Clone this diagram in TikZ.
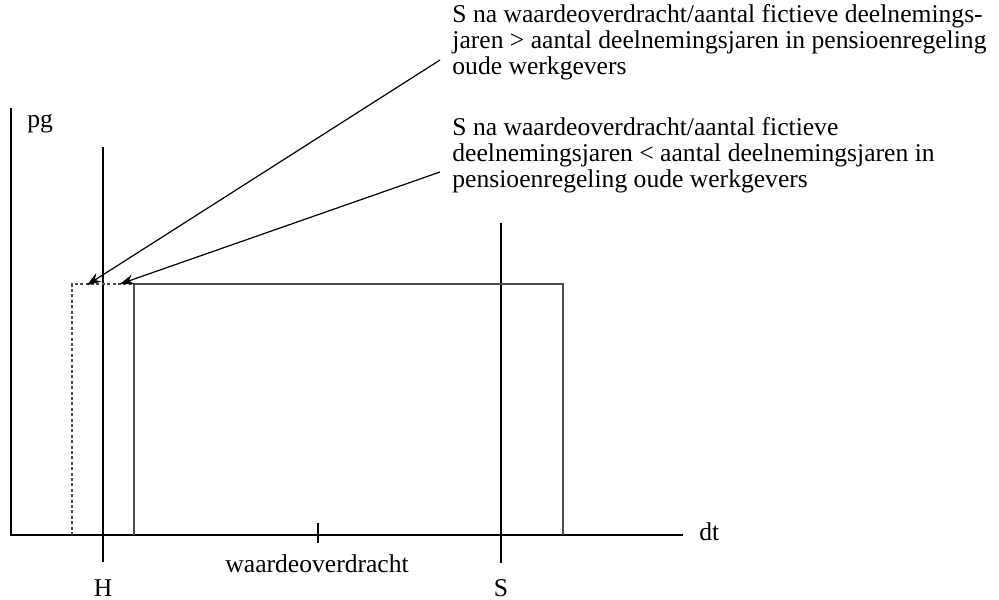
\documentclass[tikz,border=0pt]{standalone}
\usepackage{fontspec}
\setmainfont{Liberation Serif}
\usetikzlibrary{arrows.meta}
\begin{document}
\begin{tikzpicture}[x=0.5pt,y=-0.5pt,
  axis/.style={line width=0.7pt},
  marker/.style={line width=1.4pt},
  bar/.style={line width=0.6pt, black!70},
  oldbar/.style={line width=0.6pt, black!70, dash pattern=on 1.5pt off 1.2pt},
  label/.style={inner sep=0pt, font=\fontsize{12.8}{12.9}\selectfont},
  leader/.style={line width=0.6pt, -{Stealth[length=7pt,width=5pt]}}]
\useasboundingbox (0,0) rectangle (999,599);

% axes
\coordinate (origin) at (11,535);
\coordinate (ytop) at (11,108);
\coordinate (xend) at (683,535);
\draw[axis] (ytop) -- (origin) -- (xend);
\node[label, anchor=base west] (pg) at (27,127) {pg};
\node[label, anchor=base west] (dt) at (699,540) {dt};

% tick on the x-axis
\coordinate (ticktop) at (318,523);
\coordinate (tickbot) at (318,543);
\draw[axis] (ticktop) -- (tickbot);
\node[label, anchor=base west] (transfer) at (225,572) {waardeoverdracht};

% H and S
\coordinate (Htop) at (103,147);
\coordinate (Hbot) at (103,562);
\coordinate (Stop) at (501,223);
\coordinate (Sbot) at (501,563);
\draw[marker] (Htop) -- (Hbot);
\draw[marker] (Stop) -- (Sbot);
\node[label, anchor=base] (H) at (103,596) {H};
\node[label, anchor=base] (S) at (501,596) {S};

% the two blocks
\draw[oldbar] (72,535) |- (134,284);
\draw[bar] (134,535) |- (563,284) -- (563,535);

% explanations
\node[label, anchor=north west, align=left] (longer) at (452,4)
  {S na waardeoverdracht/aantal fictieve deelnemings-\\
   jaren > aantal deelnemingsjaren in pensioenregeling\\
   oude werkgevers};
\node[label, anchor=north west, align=left] (shorter) at (452,117)
  {S na waardeoverdracht/aantal fictieve\\
   deelnemingsjaren < aantal deelnemingsjaren in\\
   pensioenregeling oude werkgevers};

\coordinate (longerend) at (440,60);
\coordinate (shorterend) at (440,172);
\coordinate (longertip) at (87,285);
\coordinate (shortertip) at (120,284);
\draw[leader] (longerend) -- (longertip);
\draw[leader] (shorterend) -- (shortertip);

\end{tikzpicture}
\end{document}
